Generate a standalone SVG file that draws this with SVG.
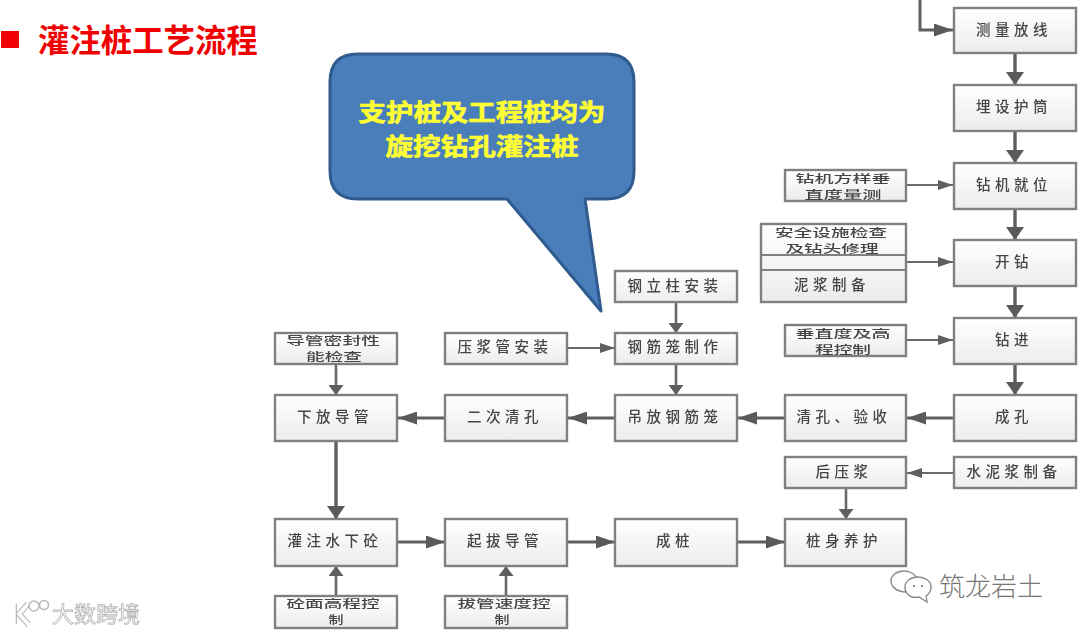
<svg xmlns="http://www.w3.org/2000/svg" width="1080" height="634" viewBox="0 0 1080 634">
<style>
text{font-family:"Noto Sans CJK SC",sans-serif}
.box{fill:url(#g);stroke:#808080;stroke-width:2.4}
.t{font-size:14.5px;font-weight:500;fill:#454545;text-anchor:middle;letter-spacing:4.5px;filter:url(#soft)}
.t2{font-size:11px;font-weight:500;fill:#454545;text-anchor:middle;filter:url(#soft)}
.ct{font-size:23.4px;font-weight:700;fill:#ffff33;stroke:#ffff33;stroke-width:.6;text-anchor:middle}
.big{fill:none;stroke:#5f5f5f;stroke-width:3}
.bigv{fill:none;stroke:#5f5f5f;stroke-width:3.4}
.sm{fill:none;stroke:#6a6a6a;stroke-width:2}
.smv{fill:none;stroke:#6a6a6a;stroke-width:2.6}
.halo{fill:none;stroke:#bdbdbd;stroke-width:6;filter:url(#soft)}
.core{fill:none;stroke:#fff;stroke-width:3.4}
.wm{font-size:22px;fill:#fff;stroke:#b5b5b5;stroke-width:.8;filter:url(#soft)}
</style>
<defs>
<linearGradient id="g" x1="0" y1="0" x2="0" y2="1"><stop offset="0" stop-color="#fff"/><stop offset="1" stop-color="#ececec"/></linearGradient>
<filter id="soft" x="-5%" y="-10%" width="110%" height="120%"><feGaussianBlur stdDeviation="0.45"/></filter>
<marker id="bh" markerUnits="userSpaceOnUse" markerWidth="19" markerHeight="13" refX="19" refY="6.5" orient="auto"><path d="M0 0L19 6.5L0 13z" fill="#5a5a5a"/></marker>
<marker id="bv" markerUnits="userSpaceOnUse" markerWidth="13" markerHeight="18" refX="13" refY="9" orient="auto"><path d="M0 0L13 9L0 18z" fill="#5a5a5a"/></marker>
<marker id="sh" markerUnits="userSpaceOnUse" markerWidth="15" markerHeight="10" refX="15" refY="5" orient="auto"><path d="M0 0L15 5L0 10z" fill="#5f5f5f"/></marker>
<marker id="sv" markerUnits="userSpaceOnUse" markerWidth="10" markerHeight="15" refX="10" refY="7.5" orient="auto"><path d="M0 0L10 7.5L0 15z" fill="#5f5f5f"/></marker>
</defs>
<rect width="1080" height="634" fill="#fff"/>
<g id="title">
<rect x="1" y="31" width="18" height="17" fill="#f00000"/>
<text x="38" y="52" font-size="31.4" font-weight="700" fill="#f00000">灌注桩工艺流程</text>
</g>
<g id="connectors">
<path class="big" d="M920 0V30H953" marker-end="url(#bh)"/>
<path class="bigv" d="M1015 53V85" marker-end="url(#bv)"/>
<path class="bigv" d="M1015 131V163" marker-end="url(#bv)"/>
<path class="bigv" d="M1015 209V240" marker-end="url(#bv)"/>
<path class="bigv" d="M1015 286V318" marker-end="url(#bv)"/>
<path class="bigv" d="M1015 364V395" marker-end="url(#bv)"/>
<path class="sm" d="M906 185H953" marker-end="url(#sh)"/>
<path class="sm" d="M906 262H953" marker-end="url(#sh)"/>
<path class="sm" d="M906 340H953" marker-end="url(#sh)"/>
<path class="big" d="M954 418H907" marker-end="url(#bh)"/>
<path class="big" d="M785 418H738" marker-end="url(#bh)"/>
<path class="big" d="M615 418H568" marker-end="url(#bh)"/>
<path class="big" d="M445 418H398" marker-end="url(#bh)"/>
<path class="smv" d="M676 302V333" marker-end="url(#sv)"/>
<path class="smv" d="M676 364V395" marker-end="url(#sv)"/>
<path class="smv" d="M336 364V395" marker-end="url(#sv)"/>
<path class="sm" d="M567 348H615" marker-end="url(#sh)"/>
<path class="bigv" d="M336 441V519" marker-end="url(#bv)"/>
<path class="sm" d="M954 473H907" marker-end="url(#sh)"/>
<path class="smv" d="M846 488V519" marker-end="url(#sv)"/>
<path class="big" d="M397 542H445" marker-end="url(#bh)"/>
<path class="big" d="M567 542H615" marker-end="url(#bh)"/>
<path class="big" d="M737 542H785" marker-end="url(#bh)"/>
<path class="smv" d="M336 596V566" marker-end="url(#sv)"/>
<path class="smv" d="M506 596V566" marker-end="url(#sv)"/>
</g>
<g id="n-celiang"><rect class="box" x="954" y="8" width="122" height="45"/><text class="t" x="1014" y="35">测量放线</text></g>
<g id="n-hutong"><rect class="box" x="954" y="85" width="122" height="46"/><text class="t" x="1014" y="112">埋设护筒</text></g>
<g id="n-jiuwei"><rect class="box" x="954" y="163" width="122" height="46"/><text class="t" x="1014" y="190">钻机就位</text></g>
<g id="n-kaizuan"><rect class="box" x="954" y="240" width="122" height="46"/><text class="t" x="1014" y="267">开钻</text></g>
<g id="n-zuanjin"><rect class="box" x="954" y="318" width="122" height="46"/><text class="t" x="1014" y="345">钻进</text></g>
<g id="n-chengkong"><rect class="box" x="954" y="395" width="122" height="46"/><text class="t" x="1014" y="422">成孔</text></g>
<g id="n-fangyang"><rect class="box" x="785" y="170" width="121" height="31"/><text class="t2" x="843" y="183" textLength="95" lengthAdjust="spacingAndGlyphs">钻机方样垂</text><text class="t2" x="843" y="199" textLength="77" lengthAdjust="spacingAndGlyphs">直度量测</text></g>
<g id="n-anquan"><rect class="box" x="761" y="224" width="145" height="78"/><path d="M761 255H906M761 270H906" stroke="#808080" stroke-width="2" fill="none"/><text class="t2" x="831" y="237" textLength="112" lengthAdjust="spacingAndGlyphs">安全设施检查</text><text class="t2" x="832" y="253" textLength="93" lengthAdjust="spacingAndGlyphs">及钻头修理</text><text class="t" x="832" y="290">泥浆制备</text></g>
<g id="n-chuizhi"><rect class="box" x="785" y="325" width="121" height="31"/><text class="t2" x="843" y="338" textLength="95" lengthAdjust="spacingAndGlyphs">垂直度及高</text><text class="t2" x="843" y="354" textLength="56" lengthAdjust="spacingAndGlyphs">程控制</text></g>
<g id="n-qingkong"><rect class="box" x="785" y="395" width="121" height="46"/><text class="t" x="844" y="422">清孔、验收</text></g>
<g id="n-diaofang"><rect class="box" x="615" y="395" width="122" height="46"/><text class="t" x="675" y="422">吊放钢筋笼</text></g>
<g id="n-erci"><rect class="box" x="445" y="395" width="122" height="46"/><text class="t" x="505" y="422">二次清孔</text></g>
<g id="n-xiafang"><rect class="box" x="275" y="395" width="122" height="46"/><text class="t" x="335" y="422">下放导管</text></g>
<g id="n-mifeng"><rect class="box" x="275" y="333" width="122" height="31"/><text class="t2" x="333" y="345" textLength="94" lengthAdjust="spacingAndGlyphs">导管密封性</text><text class="t2" x="334" y="361" textLength="56" lengthAdjust="spacingAndGlyphs">能检查</text></g>
<g id="n-yajiang"><rect class="box" x="445" y="333" width="122" height="31"/><text class="t" x="505" y="352">压浆管安装</text></g>
<g id="n-zhizuo"><rect class="box" x="615" y="333" width="122" height="31"/><text class="t" x="675" y="352">钢筋笼制作</text></g>
<g id="n-lizhu"><rect class="box" x="615" y="271" width="122" height="31"/><text class="t" x="675" y="291">钢立柱安装</text></g>
<g id="n-houyajiang"><rect class="box" x="785" y="457" width="121" height="31"/><text class="t" x="844" y="477">后压浆</text></g>
<g id="n-shuini"><rect class="box" x="954" y="457" width="122" height="31"/><text class="t" x="1014" y="477">水泥浆制备</text></g>
<g id="n-guanzhu"><rect class="box" x="275" y="519" width="122" height="47"/><text class="t" x="335" y="546">灌注水下砼</text></g>
<g id="n-qiba"><rect class="box" x="445" y="519" width="122" height="47"/><text class="t" x="505" y="546">起拔导管</text></g>
<g id="n-chengzhuang"><rect class="box" x="615" y="519" width="122" height="47"/><text class="t" x="675" y="546">成桩</text></g>
<g id="n-yanghu"><rect class="box" x="785" y="519" width="121" height="47"/><text class="t" x="844" y="546">桩身养护</text></g>
<g id="n-gaocheng"><rect class="box" x="275" y="596" width="122" height="32"/><text class="t2" x="333" y="608" textLength="93" lengthAdjust="spacingAndGlyphs">砼面高程控</text><text class="t2" x="336" y="624" textLength="15" lengthAdjust="spacingAndGlyphs">制</text></g>
<g id="n-baguan"><rect class="box" x="445" y="596" width="122" height="32"/><text class="t2" x="504" y="608" textLength="93" lengthAdjust="spacingAndGlyphs">拔管速度控</text><text class="t2" x="502" y="624" textLength="15" lengthAdjust="spacingAndGlyphs">制</text></g>
<g id="callout">
<path d="M358 54H606Q634 54 634 82V171Q634 199 606 199H585L601 311L507 199H358Q330 199 330 171V82Q330 54 358 54Z" fill="#4a7ebb" stroke="#2f5b8e" stroke-width="3" stroke-linejoin="round"/>
<text class="ct" x="482" y="121" textLength="247" lengthAdjust="spacingAndGlyphs">支护桩及工程桩均为</text>
<text class="ct" x="482" y="155" textLength="193" lengthAdjust="spacingAndGlyphs">旋挖钻孔灌注桩</text>
</g>
<g id="wm-zhulong">
<path d="M906 592C896 592 891 586 891 581C891 575 897 571 904 571C911 571 916 575 917 579" fill="none" stroke="#8a8a8a" stroke-width="1.4"/>
<path d="M919 597C911 599 905 594 905 587C905 581 911 577 918 577C925 577 931 581 931 587C931 591 929 594 926 596L927 602Z" fill="#fff" stroke="#8a8a8a" stroke-width="1.4"/>
<circle cx="914" cy="586" r="1.1" fill="#777"/><circle cx="922" cy="586" r="1.1" fill="#777"/>
<text x="939" y="596" font-size="26" fill="#777" font-weight="300">筑龙岩土</text>
</g>
<g id="wm-kuajing">
<path class="halo" d="M14 604V624M28 604L19 614L29 625"/>
<path class="core" d="M14 604V624M28 604L19 614L29 625"/>
<circle cx="34" cy="606" r="5" fill="#fff" stroke="#bbb" stroke-width="1.6"/>
<circle cx="44" cy="605" r="4.5" fill="#fff" stroke="#bbb" stroke-width="1.6"/>
<text class="wm" x="52" y="622">大数跨境</text>
</g>
</svg>
